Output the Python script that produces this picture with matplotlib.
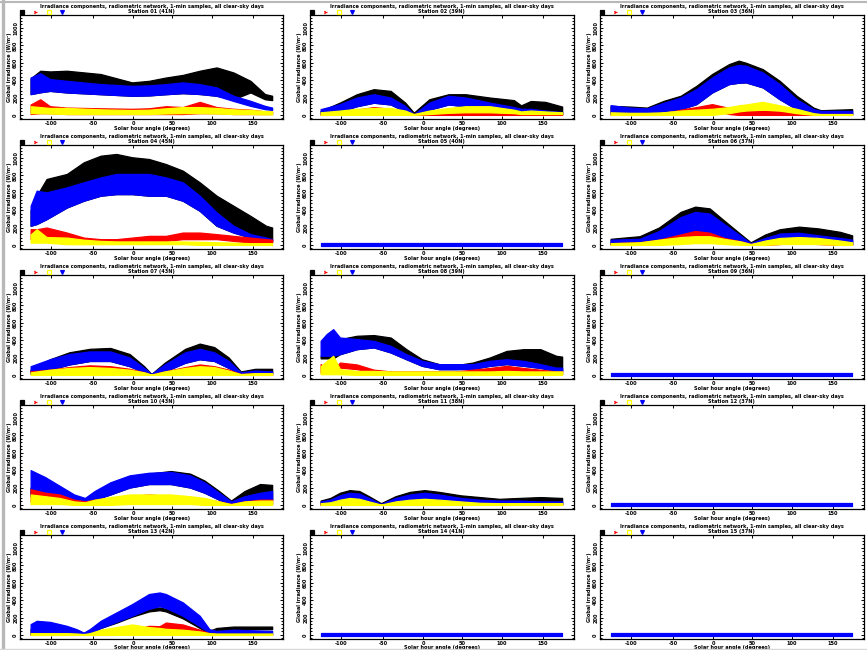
import numpy as np
import matplotlib
matplotlib.use("Agg")
import matplotlib.pyplot as plt
from matplotlib.ticker import AutoMinorLocator, FixedLocator
from matplotlib.lines import Line2D

# ---------------- data (envelopes, y in units of 200 W/m2) -------------
ytick_labels = ["0", "200", "400", "600", "800", "1000"]
xtick_pos = [8.3, 25.9, 42.4, 58.6, 75.1, 91.9]
xtick_labels = ["-100", "-50", "0", "50", "100", "150"]
series_colors = ["#000000", "#ff0000", "#ffff00", "#0000ff"]
series_names = ["total", "diffuse A", "diffuse B", "direct"]

# panel 1 (row1, col1)
p11_x = [0, 4, 8, 15, 29, 42, 49, 56, 63, 70, 77, 84, 91, 97, 100]
p11_k_hi = [2.1, 2.54, 2.5, 2.54, 2.35, 1.87, 1.96, 2.15, 2.3, 2.54, 2.73, 2.44, 1.96, 1.2, 1.1]
p11_k_lo = [1.2, 1.3, 1.38, 1.29, 1.19, 1.1, 1.12, 1.19, 1.25, 1.2, 1.1, 0.9, 1.29, 0.9, 0.85]
p11_b_hi = [2.15, 2.4, 2.06, 1.96, 1.77, 1.67, 1.7, 1.77, 1.87, 1.77, 1.58, 1.1, 0.81, 0.52, 0.42]
p11_b_lo = [1.19, 1.3, 1.38, 1.29, 1.19, 1.1, 1.12, 1.19, 1.25, 1.2, 1.1, 0.8, 0.52, 0.33, 0.29]
p11_r_hi = [0.6, 0.9, 0.5, 0.42, 0.38, 0.35, 0.38, 0.5, 0.45, 0.75, 0.45, 0.35, 0.3, 0.2, 0.18]
p11_r_lo = [0.05, 0.1, 0.1, 0.05, 0.05, 0.05, 0.05, 0.05, 0.05, 0.1, 0.1, 0.05, 0.05, 0.05, 0.05]
p11_y_hi = [0.5, 0.45, 0.4, 0.4, 0.32, 0.28, 0.3, 0.38, 0.45, 0.45, 0.4, 0.32, 0.28, 0.22, 0.2]
p11_y_lo = [0.1, 0.1, 0.08, 0.05, 0.05, 0.05, 0.05, 0.08, 0.1, 0.1, 0.08, 0.05, 0.05, 0.03, 0.03]

# panel 2 (row1, col2)
p12_x = [0, 8, 15, 22, 29, 35, 38.6, 45, 53, 60, 70, 80, 83, 87, 93, 100]
p12_k_hi = [0.23, 0.71, 1.19, 1.48, 1.38, 0.71, 0.13, 0.9, 1.19, 1.19, 1.0, 0.85, 0.55, 0.8, 0.75, 0.48]
p12_k_lo = [0.05, 0.2, 0.5, 0.7, 0.6, 0.2, 0.0, 0.3, 0.6, 0.5, 0.3, 0.15, 0.1, 0.1, 0.08, 0.05]
p12_b_hi = [0.33, 0.62, 1.0, 1.19, 1.0, 0.52, 0.04, 0.71, 1.1, 1.0, 0.71, 0.45, 0.35, 0.35, 0.25, 0.17]
p12_b_lo = [0.05, 0.2, 0.5, 0.7, 0.6, 0.2, 0.0, 0.3, 0.6, 0.5, 0.3, 0.15, 0.1, 0.1, 0.08, 0.05]
p12_r_hi = [0.1, 0.15, 0.3, 0.45, 0.35, 0.15, 0.05, 0.15, 0.2, 0.2, 0.18, 0.18, 0.15, 0.15, 0.1, 0.1]
p12_r_lo = [0.0, 0.0, 0.1, 0.2, 0.1, 0.0, 0.0, 0.0, 0.0, 0.0, 0.0, 0.0, 0.0, 0.0, 0.0, 0.0]
p12_y_hi = [0.15, 0.25, 0.35, 0.4, 0.4, 0.25, 0.05, 0.25, 0.4, 0.5, 0.5, 0.3, 0.2, 0.25, 0.2, 0.15]
p12_y_lo = [0.0, 0.0, 0.0, 0.0, 0.0, 0.0, 0.0, 0.05, 0.12, 0.15, 0.15, 0.1, 0.05, 0.05, 0.05, 0.05]

# panel 3 (row1, col3)
p13_x = [0, 8, 15, 22, 29, 35.5, 42, 49, 53, 56, 63, 70, 77, 84, 87, 100]
p13_k_hi = [0.52, 0.48, 0.42, 0.81, 1.1, 1.67, 2.35, 2.92, 3.12, 3.0, 2.63, 1.96, 1.1, 0.42, 0.27, 0.33]
p13_k_lo = [0.05, 0.05, 0.05, 0.23, 0.33, 0.62, 1.29, 1.77, 1.85, 1.87, 1.58, 0.9, 0.33, 0.05, 0.05, 0.05]
p13_b_hi = [0.56, 0.42, 0.37, 0.7, 1.0, 1.48, 2.15, 2.73, 2.87, 2.83, 2.44, 1.77, 0.9, 0.33, 0.23, 0.23]
p13_b_lo = [0.05, 0.05, 0.05, 0.23, 0.33, 0.62, 1.29, 1.77, 1.85, 1.87, 1.58, 0.9, 0.33, 0.05, 0.05, 0.05]
p13_r_hi = [0.1, 0.08, 0.08, 0.1, 0.3, 0.45, 0.62, 0.4, 0.45, 0.3, 0.23, 0.2, 0.1, 0.05, 0.05, 0.05]
p13_r_lo = [0.0, 0.0, 0.0, 0.0, 0.05, 0.2, 0.3, 0.05, 0.0, 0.0, 0.0, 0.0, 0.0, 0.0, 0.0, 0.0]
p13_y_hi = [0.15, 0.12, 0.12, 0.15, 0.25, 0.3, 0.35, 0.45, 0.55, 0.6, 0.75, 0.55, 0.35, 0.1, 0.05, 0.05]
p13_y_lo = [0.0, 0.0, 0.0, 0.0, 0.0, 0.0, 0.0, 0.1, 0.2, 0.25, 0.3, 0.25, 0.1, 0.0, 0.0, 0.0]

# panel 4 (row2, col1)
p21_x = [0, 2.5, 6.6, 15, 22, 29, 35.5, 42, 49, 56, 63, 70, 77, 84, 91, 97.5, 100]
p21_k_hi = [2.0, 2.83, 3.79, 4.08, 4.75, 5.13, 5.23, 5.04, 4.94, 4.65, 4.27, 3.6, 2.83, 2.25, 1.67, 1.1, 1.0]
p21_k_lo = [1.1, 1.2, 1.48, 2.15, 2.54, 2.83, 2.92, 2.92, 2.83, 2.83, 2.54, 1.96, 1.1, 0.71, 0.42, 0.25, 0.23]
p21_b_hi = [2.25, 3.12, 3.02, 3.31, 3.6, 3.88, 4.08, 4.08, 4.08, 3.88, 3.6, 2.83, 1.87, 1.1, 0.62, 0.42, 0.33]
p21_b_lo = [1.1, 1.2, 1.48, 2.15, 2.54, 2.83, 2.92, 2.92, 2.83, 2.83, 2.54, 1.96, 1.1, 0.71, 0.42, 0.25, 0.23]
p21_r_hi = [0.9, 0.9, 1.0, 0.71, 0.42, 0.33, 0.33, 0.42, 0.52, 0.52, 0.71, 0.71, 0.62, 0.52, 0.42, 0.33, 0.3]
p21_r_lo = [0.33, 0.33, 0.52, 0.33, 0.13, 0.13, 0.13, 0.13, 0.23, 0.23, 0.33, 0.33, 0.33, 0.23, 0.13, 0.13, 0.13]
p21_y_hi = [0.6, 0.9, 0.45, 0.42, 0.3, 0.23, 0.2, 0.2, 0.2, 0.2, 0.2, 0.18, 0.15, 0.13, 0.1, 0.1, 0.1]
p21_y_lo = [0.13, 0.13, 0.13, 0.04, 0.04, 0.04, 0.04, 0.04, 0.04, 0.04, 0.04, 0.0, 0.0, 0.0, 0.0, 0.0, 0.0]

# panel 6 (row2, col3)
p23_x = [0, 12, 20, 29, 35, 41, 47, 54, 58, 64, 70, 78, 86, 95, 100]
p23_k_hi = [0.35, 0.5, 1.0, 1.9, 2.2, 2.1, 1.4, 0.6, 0.15, 0.6, 0.9, 1.05, 0.95, 0.75, 0.55]
p23_k_lo = [0.05, 0.05, 0.2, 0.6, 0.8, 0.7, 0.4, 0.1, 0.0, 0.1, 0.2, 0.25, 0.2, 0.1, 0.05]
p23_b_hi = [0.3, 0.35, 0.8, 1.6, 1.9, 1.8, 1.2, 0.5, 0.1, 0.4, 0.65, 0.7, 0.55, 0.4, 0.3]
p23_b_lo = [0.05, 0.05, 0.2, 0.6, 0.8, 0.7, 0.4, 0.1, 0.0, 0.1, 0.2, 0.25, 0.2, 0.1, 0.05]
p23_r_hi = [0.1, 0.15, 0.3, 0.6, 0.8, 0.7, 0.4, 0.2, 0.05, 0.15, 0.3, 0.35, 0.3, 0.2, 0.1]
p23_r_lo = [0.0, 0.0, 0.05, 0.2, 0.3, 0.3, 0.1, 0.05, 0.0, 0.0, 0.05, 0.1, 0.05, 0.0, 0.0]
p23_y_hi = [0.1, 0.15, 0.3, 0.45, 0.5, 0.5, 0.35, 0.2, 0.05, 0.25, 0.4, 0.45, 0.4, 0.25, 0.15]
p23_y_lo = [0.0, 0.0, 0.0, 0.05, 0.1, 0.1, 0.05, 0.0, 0.0, 0.0, 0.05, 0.05, 0.05, 0.0, 0.0]

# panel 7 (row3, col1)
p31_x = [0, 8, 16, 24.5, 33, 41, 47, 50, 55.5, 64, 70, 76, 82, 87, 93, 100]
p31_k_hi = [0.3, 0.9, 1.3, 1.5, 1.55, 1.2, 0.5, 0.05, 0.7, 1.5, 1.8, 1.6, 1.0, 0.2, 0.35, 0.35]
p31_k_lo = [0.1, 0.3, 0.6, 0.8, 0.8, 0.5, 0.15, 0.0, 0.2, 0.7, 0.9, 0.8, 0.4, 0.05, 0.1, 0.1]
p31_b_hi = [0.5, 0.9, 1.2, 1.35, 1.35, 1.0, 0.4, 0.05, 0.6, 1.3, 1.5, 1.3, 0.8, 0.15, 0.25, 0.2]
p31_b_lo = [0.1, 0.3, 0.6, 0.8, 0.8, 0.5, 0.15, 0.0, 0.2, 0.7, 0.9, 0.8, 0.4, 0.05, 0.1, 0.1]
p31_r_hi = [0.2, 0.3, 0.45, 0.55, 0.5, 0.35, 0.15, 0.02, 0.2, 0.45, 0.6, 0.5, 0.3, 0.05, 0.1, 0.1]
p31_r_lo = [0.05, 0.1, 0.15, 0.2, 0.2, 0.1, 0.05, 0.0, 0.05, 0.15, 0.2, 0.15, 0.1, 0.0, 0.0, 0.0]
p31_y_hi = [0.15, 0.3, 0.4, 0.45, 0.4, 0.3, 0.15, 0.02, 0.2, 0.4, 0.5, 0.45, 0.25, 0.05, 0.1, 0.1]
p31_y_lo = [0.0] * 16

# panel 8 (row3, col2)
p32_x = [0, 2.5, 5.2, 8, 15, 22, 29, 35.5, 42, 49, 56, 63, 70, 77, 84, 91, 97.5, 100]
p32_k_hi = [1.1, 1.15, 1.2, 2.06, 2.25, 2.29, 2.15, 1.48, 0.9, 0.62, 0.56, 0.71, 1.0, 1.38, 1.48, 1.48, 1.1, 1.05]
p32_k_lo = [0.95, 0.95, 0.95, 1.19, 1.48, 1.58, 1.29, 0.9, 0.52, 0.33, 0.33, 0.35, 0.52, 0.62, 0.52, 0.4, 0.23, 0.23]
p32_b_hi = [1.96, 2.35, 2.63, 2.15, 2.06, 1.96, 1.67, 1.19, 0.81, 0.62, 0.62, 0.62, 0.81, 0.9, 0.81, 0.62, 0.42, 0.42]
p32_b_lo = [1.1, 1.1, 1.1, 1.19, 1.48, 1.58, 1.29, 0.9, 0.52, 0.33, 0.33, 0.35, 0.52, 0.62, 0.52, 0.4, 0.23, 0.23]
p32_r_hi = [0.62, 0.4, 0.3, 0.71, 0.6, 0.3, 0.2, 0.2, 0.2, 0.2, 0.2, 0.3, 0.4, 0.52, 0.4, 0.3, 0.2, 0.2]
p32_r_lo = [0.13, 0.13, 0.13, 0.42, 0.33, 0.13, 0.04, 0.04, 0.04, 0.04, 0.04, 0.04, 0.13, 0.23, 0.13, 0.04, 0.04, 0.04]
p32_y_hi = [0.5, 0.8, 1.1, 0.33, 0.23, 0.23, 0.2, 0.2, 0.2, 0.2, 0.2, 0.2, 0.2, 0.23, 0.2, 0.2, 0.2, 0.2]
p32_y_lo = [0.04, 0.04, 0.04, 0.04, 0.0, 0.0, 0.0, 0.0, 0.0, 0.0, 0.0, 0.0, 0.0, 0.0, 0.0, 0.0, 0.0, 0.0]

# panel 10 (row4, col1)
p41_x = [0, 6, 12, 18, 22.5, 26.5, 33, 41, 49, 58, 66, 72, 78, 83, 88.6, 95, 100]
p41_k_hi = [1.0, 0.9, 0.7, 0.4, 0.3, 0.7, 1.2, 1.6, 1.8, 1.95, 1.8, 1.4, 0.8, 0.25, 0.8, 1.2, 1.15]
p41_k_lo = [0.5, 0.4, 0.3, 0.15, 0.1, 0.3, 0.6, 1.0, 1.2, 1.2, 1.0, 0.7, 0.3, 0.05, 0.2, 0.3, 0.3]
p41_b_hi = [2.0, 1.6, 1.1, 0.6, 0.4, 0.8, 1.3, 1.7, 1.85, 1.9, 1.7, 1.3, 0.7, 0.2, 0.5, 0.7, 0.8]
p41_b_lo = [0.5, 0.4, 0.3, 0.15, 0.1, 0.3, 0.6, 1.0, 1.2, 1.2, 1.0, 0.7, 0.3, 0.05, 0.2, 0.3, 0.3]
p41_r_hi = [0.9, 0.7, 0.6, 0.3, 0.2, 0.3, 0.4, 0.5, 0.6, 0.5, 0.45, 0.35, 0.2, 0.05, 0.2, 0.3, 0.3]
p41_r_lo = [0.2, 0.1, 0.1, 0.05, 0.0, 0.05, 0.1, 0.15, 0.2, 0.15, 0.1, 0.1, 0.05, 0.0, 0.05, 0.05, 0.05]
p41_y_hi = [0.6, 0.5, 0.4, 0.2, 0.15, 0.3, 0.45, 0.6, 0.6, 0.6, 0.5, 0.4, 0.2, 0.05, 0.2, 0.25, 0.25]
p41_y_lo = [0.05, 0.05, 0.05, 0.0, 0.0, 0.0, 0.0, 0.05, 0.05, 0.05, 0.05, 0.0, 0.0, 0.0, 0.0, 0.0, 0.0]

# panel 11 (row4, col2)
p42_x = [0, 4, 8, 12, 16, 20, 25, 31, 37, 43, 49, 58, 66, 74, 82, 91, 100]
p42_k_hi = [0.25, 0.4, 0.7, 0.85, 0.8, 0.5, 0.1, 0.5, 0.75, 0.85, 0.75, 0.55, 0.45, 0.35, 0.4, 0.45, 0.4]
p42_k_lo = [0.02, 0.05, 0.2, 0.3, 0.3, 0.15, 0.0, 0.15, 0.25, 0.3, 0.25, 0.15, 0.1, 0.05, 0.05, 0.05, 0.05]
p42_b_hi = [0.2, 0.3, 0.55, 0.7, 0.65, 0.4, 0.05, 0.4, 0.6, 0.7, 0.6, 0.4, 0.3, 0.25, 0.25, 0.2, 0.2]
p42_b_lo = [0.02, 0.05, 0.2, 0.3, 0.3, 0.15, 0.0, 0.15, 0.25, 0.3, 0.25, 0.15, 0.1, 0.05, 0.05, 0.05, 0.05]
p42_r_hi = [0.1, 0.1, 0.15, 0.2, 0.2, 0.1, 0.02, 0.1, 0.15, 0.2, 0.15, 0.1, 0.1, 0.08, 0.08, 0.08, 0.08]
p42_r_lo = [0.0] * 17
p42_y_hi = [0.1, 0.15, 0.3, 0.4, 0.35, 0.2, 0.02, 0.2, 0.3, 0.35, 0.3, 0.2, 0.12, 0.1, 0.1, 0.1, 0.1]
p42_y_lo = [0.0] * 17

# panel 13 (row5, col1)
p51_x = [0, 2.5, 8, 15, 19, 22, 24.5, 29, 35.5, 42, 49, 53.4, 56, 63, 70, 74, 77, 84, 100]
p51_k_hi = [0.33, 0.33, 0.33, 0.3, 0.25, 0.1, 0.3, 0.55, 0.85, 1.2, 1.5, 1.58, 1.5, 1.1, 0.55, 0.23, 0.4, 0.48, 0.48]
p51_k_lo = [0.05, 0.05, 0.05, 0.05, 0.05, 0.0, 0.05, 0.4, 0.7, 1.05, 1.35, 1.42, 1.35, 0.95, 0.4, 0.05, 0.25, 0.33, 0.33]
p51_b_hi = [0.62, 0.81, 0.75, 0.52, 0.33, 0.13, 0.33, 0.81, 1.29, 1.77, 2.35, 2.44, 2.35, 1.87, 1.1, 0.33, 0.23, 0.3, 0.23]
p51_b_lo = [0.04, 0.04, 0.04, 0.04, 0.04, 0.0, 0.04, 0.4, 0.75, 1.1, 1.5, 1.65, 1.55, 1.1, 0.5, 0.1, 0.04, 0.04, 0.04]
p51_r_hi = [0.1, 0.1, 0.1, 0.05, 0.05, 0.02, 0.05, 0.1, 0.2, 0.3, 0.52, 0.5, 0.71, 0.6, 0.3, 0.1, 0.05, 0.05, 0.05]
p51_r_lo = [0.0, 0.0, 0.0, 0.0, 0.0, 0.0, 0.0, 0.0, 0.0, 0.05, 0.05, 0.1, 0.13, 0.13, 0.05, 0.0, 0.0, 0.0, 0.0]
p51_y_hi = [0.1, 0.1, 0.1, 0.1, 0.08, 0.05, 0.1, 0.3, 0.45, 0.6, 0.45, 0.4, 0.35, 0.3, 0.2, 0.1, 0.08, 0.08, 0.08]
p51_y_lo = [0.0] * 19

# flat panels (all series ~0): only the blue band is visible
flat_x = [0, 100]
flat_b_hi = [0.12, 0.12]
flat_b_lo = [-0.08, -0.08]

station_names = ["Station 01 (41N)", "Station 02 (39N)", "Station 03 (36N)",
                 "Station 04 (45N)", "Station 05 (40N)", "Station 06 (37N)",
                 "Station 07 (43N)", "Station 08 (39N)", "Station 09 (36N)",
                 "Station 10 (43N)", "Station 11 (38N)", "Station 12 (37N)",
                 "Station 13 (42N)", "Station 14 (41N)", "Station 15 (37N)"]
title_main = "Irradiance components, radiometric network, 1-min samples, all clear-sky days"
x_label = "Solar hour angle (degrees)"
y_label = "Global irradiance (W/m\u00b2)"

# ---------------- layout -------------------------------------------------
W, H = 867, 650
fig = plt.figure(figsize=(W / 100, H / 100), dpi=100)
fig.patch.set_facecolor("white")

COL_LEFT = [20, 310, 600]
AX_W = 263.5
ROW_TOP = [14.9 + 130 * r for r in range(5)]
AX_H = 104.3
FS = 3.6


def fx(px):
    return px / W


def fy(py):
    return 1 - py / H


flat = dict(x=flat_x, k=None, r=None, y=None, b=(flat_b_lo, flat_b_hi))
panels = [
    dict(x=p11_x, k=(p11_k_lo, p11_k_hi), b=(p11_b_lo, p11_b_hi), r=(p11_r_lo, p11_r_hi), y=(p11_y_lo, p11_y_hi)),
    dict(x=p12_x, k=(p12_k_lo, p12_k_hi), b=(p12_b_lo, p12_b_hi), r=(p12_r_lo, p12_r_hi), y=(p12_y_lo, p12_y_hi)),
    dict(x=p13_x, k=(p13_k_lo, p13_k_hi), b=(p13_b_lo, p13_b_hi), r=(p13_r_lo, p13_r_hi), y=(p13_y_lo, p13_y_hi)),
    dict(x=p21_x, k=(p21_k_lo, p21_k_hi), b=(p21_b_lo, p21_b_hi), r=(p21_r_lo, p21_r_hi), y=(p21_y_lo, p21_y_hi)),
    flat,
    dict(x=p23_x, k=(p23_k_lo, p23_k_hi), b=(p23_b_lo, p23_b_hi), r=(p23_r_lo, p23_r_hi), y=(p23_y_lo, p23_y_hi)),
    dict(x=p31_x, k=(p31_k_lo, p31_k_hi), b=(p31_b_lo, p31_b_hi), r=(p31_r_lo, p31_r_hi), y=(p31_y_lo, p31_y_hi)),
    dict(x=p32_x, k=(p32_k_lo, p32_k_hi), b=(p32_b_lo, p32_b_hi), r=(p32_r_lo, p32_r_hi), y=(p32_y_lo, p32_y_hi)),
    flat,
    dict(x=p41_x, k=(p41_k_lo, p41_k_hi), b=(p41_b_lo, p41_b_hi), r=(p41_r_lo, p41_r_hi), y=(p41_y_lo, p41_y_hi)),
    dict(x=p42_x, k=(p42_k_lo, p42_k_hi), b=(p42_b_lo, p42_b_hi), r=(p42_r_lo, p42_r_hi), y=(p42_y_lo, p42_y_hi)),
    flat,
    dict(x=p51_x, k=(p51_k_lo, p51_k_hi), b=(p51_b_lo, p51_b_hi), r=(p51_r_lo, p51_r_hi), y=(p51_y_lo, p51_y_hi)),
    flat,
    flat,
]

legend_markers = ["s", "4", "s", "v"]
legend_dx = [2.3, 15.3, 28.7, 41.7]

for i, p in enumerate(panels):
    r, c = divmod(i, 3)
    L = COL_LEFT[c]
    T = ROW_TOP[r]
    ax = fig.add_axes([fx(L), fy(T + AX_H), AX_W / W, AX_H / H])
    ax.set_xlim(-4.4, 104.7)
    ax.set_ylim(-0.247, 5.75)

    x = p["x"]
    order = [("k", series_colors[0], 1), ("b", series_colors[3], 2),
             ("r", series_colors[1], 3), ("y", series_colors[2], 4)]
    for key, col, z in order:
        if p[key] is None:
            continue
        lo, hi = p[key]
        ax.fill_between(x, lo, hi, facecolor=col, edgecolor=col, lw=0.9, zorder=z)

    # ticks
    ax.yaxis.set_major_locator(FixedLocator([0, 1, 2, 3, 4, 5]))
    ax.set_yticklabels(ytick_labels, rotation=90, va="center", fontsize=FS, fontweight="bold")
    ax.yaxis.set_minor_locator(AutoMinorLocator(5))
    ax.xaxis.set_major_locator(FixedLocator(xtick_pos))
    ax.set_xticklabels(xtick_labels, fontsize=FS, fontweight="bold")
    ax.tick_params(which="both", direction="in", top=True, right=True, width=0.7)
    ax.tick_params(which="major", length=2.2)
    ax.tick_params(which="minor", length=1.1)
    ax.tick_params(axis="x", pad=1.0)
    ax.tick_params(axis="y", pad=1.3)
    for s in ax.spines.values():
        s.set_linewidth(0.9)

    cx = L + AX_W / 2
    ax.set_xlabel(x_label, fontsize=FS, fontweight="bold", labelpad=0.2 if r < 4 else -0.4)
    ax.set_ylabel(y_label, fontsize=FS, fontweight="bold", labelpad=0.8)

    # two-line title
    fig.text(fx(cx), fy(T - 8.6), title_main, ha="center", va="center",
             fontsize=FS, fontweight="bold")
    fig.text(fx(cx), fy(T - 3.3), station_names[i], ha="center", va="center",
             fontsize=FS, fontweight="bold")

    # legend markers
    for mk, col, dx in zip(legend_markers, series_colors, legend_dx):
        mfc = "none" if col == "#ffff00" else col
        fig.add_artist(Line2D([fx(L + dx)], [fy(T - 3.3)], marker=mk, markersize=2.8,
                              markerfacecolor=mfc, markeredgecolor=col, markeredgewidth=0.9,
                              linestyle="none", transform=fig.transFigure))

# page frame (gray borders)
fig.add_artist(Line2D([fx(3.5), fx(3.5)], [0, 1], color="#b8b8b8", lw=2.4, transform=fig.transFigure))
fig.add_artist(Line2D([0, 1], [fy(2.0), fy(2.0)], color="#b8b8b8", lw=1.5, transform=fig.transFigure))
fig.add_artist(Line2D([0, 1], [fy(649.3), fy(649.3)], color="#d8d8d8", lw=1.0, transform=fig.transFigure))

fig.savefig("out.png", dpi=100)
